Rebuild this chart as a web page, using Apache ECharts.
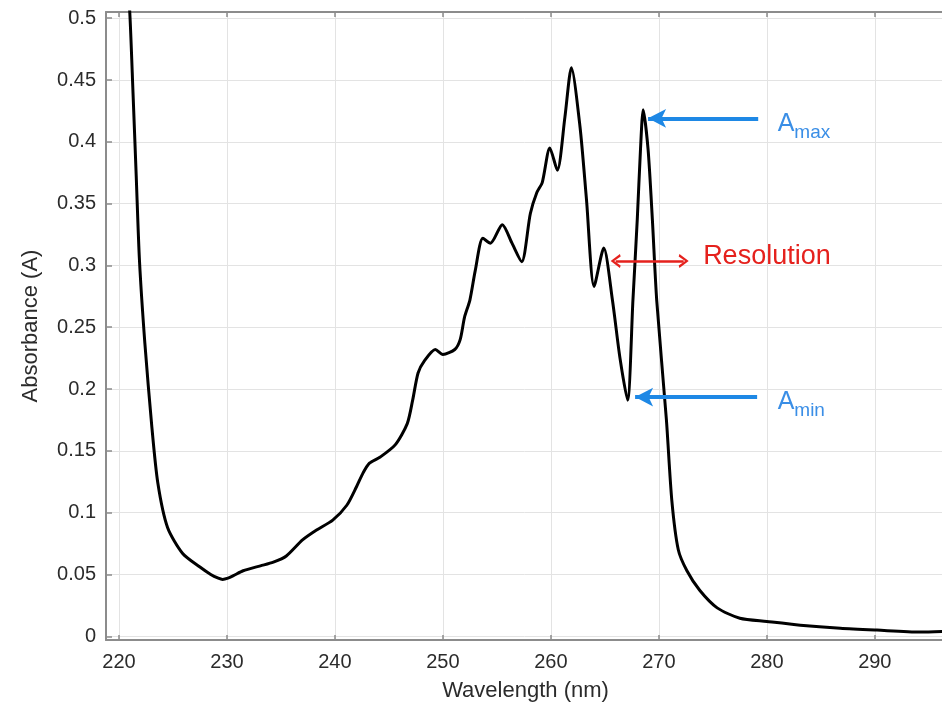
<!DOCTYPE html>
<html>
<head>
<meta charset="utf-8">
<title>Absorbance spectrum</title>
<script src="https://cdn.jsdelivr.net/npm/echarts@6.0.0/dist/echarts.min.js"></script>
<style>
  html, body { margin: 0; padding: 0; background: #fff; }
  #chart { width: 942px; height: 703px; }
</style>
</head>
<body>
<div id="chart"></div>
<script>
// wavelength (nm) and absorbance (A)
const wavelength = [
  220.75, 221.0, 221.3, 221.6, 221.9, 222.4, 223.05, 223.6, 224.5, 225.9,
  227.5, 228.5, 229.2, 229.6, 230.1, 230.6, 231.5, 233.1, 234.3, 235.5,
  237.0, 238.3, 239.8, 241.1, 242.0, 242.6, 243.2, 244.2, 245.6, 246.7,
  247.2, 247.7, 248.3, 249.3, 250.0, 251.1, 251.6, 252.0, 252.5, 253.0,
  253.7, 254.4, 255.5, 256.4, 257.3, 258.1, 258.7, 259.2, 259.9, 260.6,
  261.3, 261.9, 262.7, 263.3, 264.0, 264.9, 265.7, 266.4, 267.1, 267.6,
  268.0, 268.3, 268.55, 269.0, 269.4, 269.8, 270.7, 271.2, 271.8, 272.6,
  273.8, 275.4, 277.5, 280.0, 283.1, 286.8, 290.2, 294.2, 296.5
];
const absorbance = [
  0.530, 0.505, 0.440, 0.372, 0.304, 0.237, 0.169, 0.124, 0.088, 0.067,
  0.056, 0.050, 0.047, 0.046, 0.047, 0.049, 0.053, 0.057, 0.060, 0.065,
  0.078, 0.086, 0.094, 0.106, 0.121, 0.132, 0.140, 0.145, 0.155, 0.172,
  0.191, 0.213, 0.223, 0.232, 0.228, 0.232, 0.240, 0.258, 0.272, 0.296,
  0.322, 0.318, 0.333, 0.318, 0.303, 0.342, 0.359, 0.367, 0.395, 0.377,
  0.420, 0.460, 0.412, 0.353, 0.283, 0.314, 0.272, 0.225, 0.191, 0.272,
  0.337, 0.394, 0.426, 0.394, 0.337, 0.272, 0.175, 0.110, 0.070, 0.053,
  0.037, 0.023, 0.0146, 0.012, 0.009, 0.0065, 0.005, 0.0035, 0.004
];

const axisGray = '#8c8c8c';
const textGray = '#2b2b2b';
const font = 'Liberation Sans, Arial, sans-serif';
const blue = '#1e88e5';
const red = '#e5211d';

function onStep(v, step) {
  const k = v / step;
  return Math.abs(k - Math.round(k)) < 1e-6;
}

const chart = echarts.init(document.getElementById('chart'));

const xBase = {
  type: 'value',
  min: 218.8,
  max: 296.5,
  minInterval: 10,
  maxInterval: 10,
  axisLine: { show: true, onZero: false, lineStyle: { color: axisGray, width: 2 } },
  axisTick: { show: true, inside: true, length: 5, lineStyle: { color: axisGray, width: 1.5 } }
};

chart.setOption({
  animation: false,
  grid: { left: 106, right: -3, top: 12, bottom: 63, containLabel: false, outerBoundsMode: 'none' },
  xAxis: [
    Object.assign({}, xBase, {
      position: 'bottom',
      name: 'Wavelength (nm)',
      nameLocation: 'middle',
      nameGap: 40,
      nameTextStyle: { fontFamily: font, fontSize: 22, color: textGray },
      axisLabel: {
        fontFamily: font, fontSize: 20, color: textGray, margin: 12,
        formatter: v => onStep(v, 10) ? String(Math.round(v)) : ''
      },
      splitLine: {
        show: true, showMinLine: false, showMaxLine: false,
        lineStyle: { color: '#e3e3e3', width: 1 }
      }
    }),
    Object.assign({}, xBase, {
      position: 'top',
      axisLabel: { show: false },
      splitLine: { show: false }
    })
  ],
  yAxis: {
    type: 'value',
    min: -0.003,
    max: 0.505,
    minInterval: 0.05,
    maxInterval: 0.05,
    name: 'Absorbance (A)',
    nameLocation: 'middle',
    nameGap: 64,
    nameTextStyle: { fontFamily: font, fontSize: 22, color: textGray },
    axisLine: { show: true, lineStyle: { color: axisGray, width: 2 } },
    axisTick: { show: true, inside: true, length: 6, lineStyle: { color: axisGray, width: 1.5 } },
    axisLabel: {
      fontFamily: font, fontSize: 20, color: textGray, margin: 10,
      formatter: v => (v >= -1e-9 && onStep(v, 0.05)) ? String(Number(v.toFixed(2))) : ''
    },
    splitLine: {
      show: true, showMinLine: false, showMaxLine: false,
      lineStyle: { color: '#e3e3e3', width: 1 }
    }
  },
  series: [
    {
      type: 'line',
      data: wavelength.map((w, i) => [w, absorbance[i]]),
      showSymbol: false,
      smooth: 0.25,
      clip: true,
      lineStyle: { color: '#000', width: 3 },
      silent: true,
      z: 3
    },
    {
      // blue arrows for A max / A min
      type: 'line',
      data: [],
      silent: true,
      markLine: {
        silent: true,
        symbol: ['none', 'arrow'],
        symbolSize: [14, 18],
        label: { show: false },
        lineStyle: { color: blue, width: 4, type: 'solid' },
        data: [
          [{ coord: [279.2, 0.419] }, { coord: [269.0, 0.419] }],
          [{ coord: [279.1, 0.1935] }, { coord: [267.8, 0.1935] }]
        ]
      },
      markPoint: {
        silent: true,
        symbol: 'circle',
        symbolSize: 0,
        label: {
          show: true,
          position: 'right',
          distance: 0,
          color: '#3a8ee6',
          fontFamily: font,
          rich: {
            a: { fontFamily: font, fontSize: 25, color: '#3a8ee6', verticalAlign: 'bottom', padding: [0, 0, 6, 0] },
            s: { fontFamily: font, fontSize: 19, color: '#3a8ee6', verticalAlign: 'bottom' }
          }
        },
        data: [
          { coord: [281.0, 0.412], label: { formatter: '{a|A}{s|max}' } },
          { coord: [281.0, 0.187], label: { formatter: '{a|A}{s|min}' } }
        ]
      }
    },
    {
      // red double arrow for resolution
      type: 'line',
      data: [],
      silent: true,
      markLine: {
        silent: true,
        symbol: ['path://M0,10 L5,0 L10,10 L8.2,10.8 L5,3.8 L1.8,10.8 Z', 'path://M0,10 L5,0 L10,10 L8.2,10.8 L5,3.8 L1.8,10.8 Z'],
        symbolSize: [14, 10],
        label: { show: false },
        lineStyle: { color: red, width: 2.5, type: 'solid' },
        data: [
          [{ coord: [266.0, 0.3036] }, { coord: [272.3, 0.3036] }]
        ]
      },
      markPoint: {
        silent: true,
        symbol: 'circle',
        symbolSize: 0,
        label: {
          show: true,
          position: 'right',
          distance: 0,
          formatter: 'Resolution',
          fontFamily: font,
          fontSize: 27,
          color: red
        },
        data: [{ coord: [274.1, 0.307] }]
      }
    }
  ]
});
</script>
</body>
</html>
